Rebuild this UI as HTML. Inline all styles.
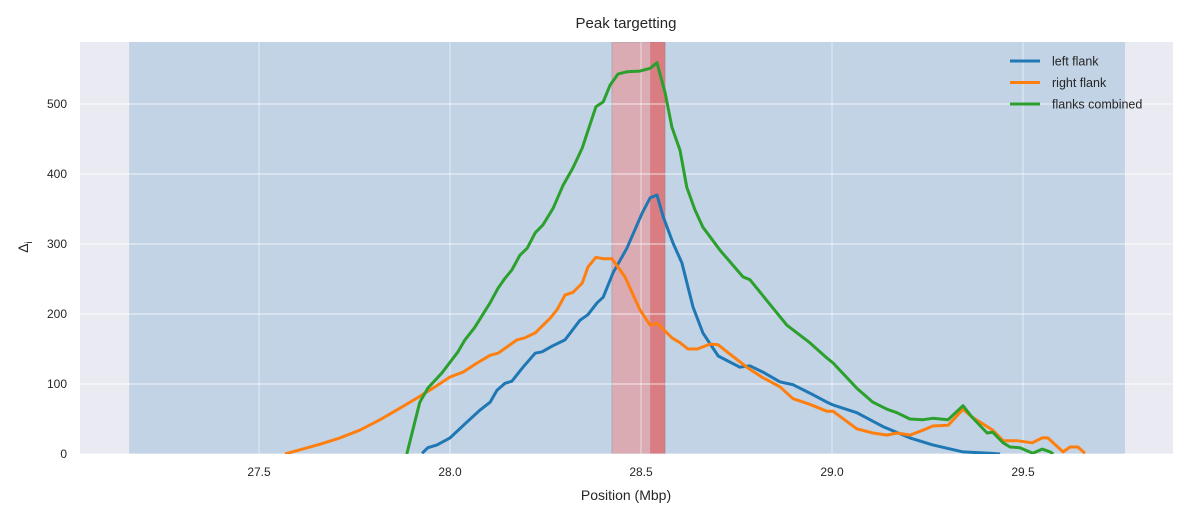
<!DOCTYPE html>
<html><head><meta charset="utf-8"><style>
body{margin:0;background:#fff;font-family:"Liberation Sans",Arial,sans-serif}
svg text{font-family:"Liberation Sans",Arial,sans-serif;fill:#262626}
</style></head><body>
<svg id="chart" width="1189" height="518" xmlns="http://www.w3.org/2000/svg">
<defs><clipPath id="pc"><rect x="80" y="42" width="1093" height="412"/></clipPath></defs>
<rect x="80" y="42" width="1093" height="412" fill="#eaeaf2"/>
<g id="spans" clip-path="url(#pc)"></g>
<g id="grid"></g>
<g id="lines" clip-path="url(#pc)"></g>
<g id="ticks"></g>
<text x="626" y="28" font-size="15" text-anchor="middle">Peak targetting</text>
<text x="626" y="500" font-size="14" text-anchor="middle">Position (Mbp)</text>
<text x="0" y="0" font-size="14" text-anchor="middle" transform="translate(28,247) rotate(-90)">Δ<tspan font-size="10" dy="4">i</tspan></text>
<g id="legend"></g>
</svg>
<script>
const xTicks=[27.5,28.0,28.5,29.0,29.5];
const yTicks=[0,100,200,300,400,500];
const spanRegion=[27.160,29.767];
const spanPeak=[28.424,28.563];
const spanCore=[28.524,28.563];
const seriesNames=["left flank","right flank","flanks combined"];
const leftX=[27.927,27.942,27.966,28.000,28.045,28.079,28.105,28.123,28.144,28.162,28.191,28.223,28.241,28.267,28.301,28.340,28.361,28.385,28.401,28.427,28.463,28.503,28.524,28.542,28.558,28.584,28.607,28.636,28.662,28.702,28.759,28.785,28.819,28.864,28.898,28.942,28.987,29.003,29.065,29.134,29.204,29.264,29.343,29.414,29.440];
const leftY=[1,9,13,23,46,63,74,91,101,104,124,144,146,154,163,191,199,216,224,259,294,344,366,370,339,301,273,210,173,140,124,126,117,103,99,87,74,70,59,39,23,13,3,1,0];
const rightX=[27.568,27.607,27.660,27.712,27.764,27.817,27.861,27.914,27.961,28.000,28.034,28.071,28.105,28.126,28.175,28.196,28.223,28.262,28.280,28.301,28.322,28.346,28.361,28.382,28.401,28.424,28.458,28.497,28.524,28.542,28.581,28.602,28.623,28.647,28.681,28.702,28.725,28.777,28.819,28.864,28.898,28.942,28.987,29.003,29.065,29.107,29.144,29.170,29.204,29.238,29.264,29.304,29.343,29.366,29.421,29.448,29.484,29.524,29.550,29.565,29.605,29.623,29.644,29.662];
const rightY=[0,6,14,23,34,49,63,80,96,110,117,130,141,144,163,166,173,194,206,227,231,244,267,281,279,279,253,206,184,187,166,159,150,150,157,156,146,124,109,96,79,71,61,61,36,30,27,30,27,34,40,41,64,53,34,19,19,16,23,23,3,10,10,1];
const combX=[27.887,27.921,27.942,27.979,28.021,28.039,28.065,28.105,28.126,28.144,28.162,28.183,28.202,28.223,28.243,28.270,28.296,28.322,28.346,28.382,28.401,28.419,28.440,28.463,28.497,28.524,28.542,28.563,28.581,28.602,28.620,28.641,28.662,28.707,28.767,28.785,28.882,28.942,28.987,29.003,29.065,29.107,29.144,29.170,29.204,29.238,29.264,29.304,29.343,29.366,29.406,29.421,29.448,29.466,29.492,29.526,29.550,29.571,29.579];
const combY=[0,74,94,116,146,163,181,216,237,251,263,284,294,316,327,351,384,409,437,496,503,527,543,546,547,551,559,516,467,434,381,349,324,291,253,249,184,159,137,130,94,74,64,59,50,49,51,49,69,53,30,31,16,10,9,1,7,3,0];

const NS="http://www.w3.org/2000/svg";
const X=v=>450+(v-28)*382;
const Y=v=>454-v*0.7;
function mk(tag,attrs,parent){const e=document.createElementNS(NS,tag);for(const k in attrs)e.setAttribute(k,attrs[k]);parent.appendChild(e);return e;}
const spans=document.getElementById('spans'),grid=document.getElementById('grid'),lines=document.getElementById('lines'),ticks=document.getElementById('ticks'),legend=document.getElementById('legend');

let s1=mk('rect',{x:X(spanRegion[0]),y:42,width:X(spanRegion[1])-X(spanRegion[0]),height:412,fill:'#1f77b4','fill-opacity':0.2},spans);


let s2=mk('rect',{x:X(spanPeak[0]),y:42,width:X(spanPeak[1])-X(spanPeak[0]),height:412,fill:'#f08a8a','fill-opacity':0.55,stroke:'#9a9aa8','stroke-width':0.6},spans);


let s3=mk('rect',{x:X(spanCore[0]),y:42,width:X(spanCore[1])-X(spanCore[0]),height:412,fill:'#d62728','fill-opacity':0.35},spans);



xTicks.forEach(t=>{
 let g=mk('line',{x1:X(t),x2:X(t),y1:42,y2:454,stroke:'#fff','stroke-opacity':0.45,'stroke-width':1.2},grid);
 
 
 let tx=mk('text',{x:X(t),y:476,'font-size':12,'text-anchor':'middle'},ticks);tx.textContent=t.toFixed(1);
 
 
});
yTicks.forEach(t=>{
 let g=mk('line',{x1:80,x2:1173,y1:Y(t),y2:Y(t),stroke:'#fff','stroke-opacity':0.6,'stroke-width':1.2},grid);
 
 
 let tx=mk('text',{x:67,y:Y(t)+4,'font-size':12,'text-anchor':'end'},ticks);tx.textContent=t;
 
 
});
const colors=['#1f77b4','#ff7f0e','#2ca02c'];
[[leftX,leftY],[rightX,rightY],[combX,combY]].forEach((s,i)=>{
 const d=s[0].map((x,j)=>(j?'L':'M')+X(x).toFixed(1)+','+Y(s[1][j]).toFixed(1)).join('');
 let p=mk('path',{d:d,fill:'none',stroke:colors[i],'stroke-width':3,'stroke-linejoin':'round'},lines);
 
 
});
seriesNames.forEach((n,i)=>{
 const y=61+i*21.5;
 let g=mk('g',{},legend);
 
 
 mk('line',{x1:1010,x2:1040,y1:y,y2:y,stroke:colors[i],'stroke-width':3},g);
 let t=mk('text',{x:1052,y:y+4.5,'font-size':12.5},g);t.textContent=n;
});
</script>
</body></html>
